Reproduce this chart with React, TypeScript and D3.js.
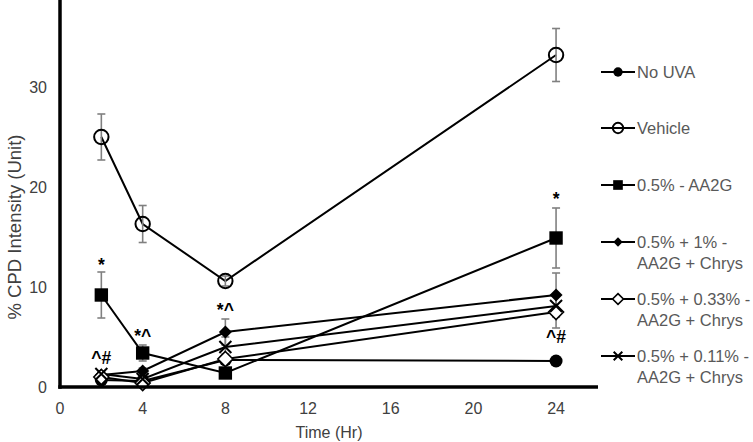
import React from "react";
import * as d3 from "d3";

const times = [2, 4, 8, 24];
const xTicks = [0, 4, 8, 12, 16, 20, 24];
const yTicks = [0, 10, 20, 30];

const noUva = [0.7, 0.6, 2.7, 2.6];
const noUvaErr = [0.2, 0.2, 0.3, 0.2];
const vehicle = [25.0, 16.3, 10.6, 33.2];
const vehicleErr = [2.3, 1.85, 0.5, 2.65];
const aa2g = [9.2, 3.4, 1.4, 14.9];
const aa2gErr = [2.3, 0.8, 0.3, 3.0];
const chrys1 = [1.2, 1.6, 5.5, 9.2];
const chrys1Err = [0.3, 0.3, 1.3, 2.2];
const chrys033 = [1.0, 0.4, 2.8, 7.5];
const chrys033Err = [0.2, 0.2, 0.5, 1.6];
const chrys011 = [1.3, 0.8, 4.0, 8.1];
const chrys011Err = [0.3, 0.3, 1.0, 1.0];

const seriesNames = [
  ["No UVA"],
  ["Vehicle"],
  ["0.5% - AA2G"],
  ["0.5% + 1% -", "AA2G + Chrys"],
  ["0.5% + 0.33% -", "AA2G + Chrys"],
  ["0.5% + 0.11% -", "AA2G + Chrys"],
];
const seriesMarkers = ["fcircle", "ocircle", "square", "fdiamond", "odiamond", "cross"];
const seriesValues = [noUva, vehicle, aa2g, chrys1, chrys033, chrys011];
const seriesErrs = [noUvaErr, vehicleErr, aa2gErr, chrys1Err, chrys033Err, chrys011Err];

const annoTimes = [2, 2, 4, 8, 24, 24];
const annoValues = [12.2, 2.9, 5.1, 7.7, 18.8, 5.0];
const annoTexts = ["*", "^#", "*^", "*^", "*", "^#"];

const W = 753;
const H = 442;

function Marker({ type, x, y, s = 1 }: { type: string; x: number; y: number; s?: number }) {
  if (type === "fcircle") return <circle cx={x} cy={y} r={6.5 * s} fill="#000" />;
  if (type === "ocircle")
    return <circle cx={x} cy={y} r={7.2 * s} fill="none" stroke="#000" strokeWidth={2} />;
  if (type === "square") {
    const h = 6.7 * s;
    return <rect x={x - h} y={y - h} width={2 * h} height={2 * h} fill="#000" />;
  }
  if (type === "fdiamond") {
    const h = 6.5 * s;
    return <path d={`M${x},${y - h}L${x + h},${y}L${x},${y + h}L${x - h},${y}Z`} fill="#000" />;
  }
  if (type === "odiamond") {
    const h = 7.5 * s;
    return (
      <path
        d={`M${x},${y - h}L${x + h},${y}L${x},${y + h}L${x - h},${y}Z`}
        fill="#fff"
        stroke="#000"
        strokeWidth={1.6}
      />
    );
  }
  const h = 6 * s;
  return (
    <path
      d={`M${x - h},${y - h}L${x + h},${y + h}M${x - h},${y + h}L${x + h},${y - h}`}
      stroke="#000"
      strokeWidth={2}
      fill="none"
    />
  );
}

export default function App() {
  const x = d3.scaleLinear().domain([0, 26]).range([60, 597.4]);
  const y = d3.scaleLinear().domain([0, 38.7]).range([387, 0]);
  const line = d3
    .line<number>()
    .x((_, i) => x(times[i]))
    .y((v) => y(v));

  const tickColor = "#404040";
  const legendColor = "#595959";
  const font = "Arial, 'Liberation Sans', sans-serif";
  const legendY = [72, 128, 185, 242, 299, 356];

  return (
    <svg
      width={W}
      height={H}
      style={{ position: "absolute", left: 0, top: 0, background: "#fff" }}
      fontFamily={font}
    >
      <rect width={W} height={H} fill="#fff" />
      {seriesValues.map((vals, si) => (
        <path key={"l" + si} d={line(vals) || ""} fill="none" stroke="#000" strokeWidth={2} />
      ))}
      {seriesValues.map((vals, si) =>
        vals.map((v, i) => {
          const e = seriesErrs[si][i];
          const cx = x(times[i]);
          return (
            <g key={"e" + si + "-" + i} stroke="#808080" strokeWidth={1.6}>
              <line x1={cx} x2={cx} y1={y(v + e)} y2={y(v - e)} />
              <line x1={cx - 4} x2={cx + 4} y1={y(v + e)} y2={y(v + e)} />
              <line x1={cx - 4} x2={cx + 4} y1={y(v - e)} y2={y(v - e)} />
            </g>
          );
        })
      )}
      {seriesValues.map((vals, si) =>
        vals.map((v, i) => (
          <Marker key={"m" + si + "-" + i} type={seriesMarkers[si]} x={x(times[i])} y={y(v)} />
        ))
      )}
      {annoTexts.map((t, i) => (
        <text
          key={"a" + i}
          x={x(annoTimes[i])}
          y={y(annoValues[i])}
          textAnchor="middle"
          dominantBaseline="central"
          fontSize={17.5}
          fontWeight="bold"
          fill="#000"
        >
          {t}
        </text>
      ))}
      <line x1={60} x2={60} y1={0} y2={388.7} stroke="#000" strokeWidth={3.5} />
      <line x1={58.3} x2={598} y1={387} y2={387} stroke="#000" strokeWidth={3.5} />
      {yTicks.map((t) => (
        <text
          key={"yt" + t}
          x={47}
          y={y(t)}
          textAnchor="end"
          dominantBaseline="central"
          fontSize={16}
          fill={tickColor}
        >
          {t}
        </text>
      ))}
      {xTicks.map((t) => (
        <text
          key={"xt" + t}
          x={x(t)}
          y={408}
          textAnchor="middle"
          dominantBaseline="central"
          fontSize={16}
          fill={tickColor}
        >
          {t}
        </text>
      ))}
      <text x={329} y={432} textAnchor="middle" dominantBaseline="central" fontSize={16} fill={tickColor}>
        Time (Hr)
      </text>
      <text
        transform={`translate(14,227) rotate(-90)`}
        textAnchor="middle"
        dominantBaseline="central"
        fontSize={18.5}
        fill={tickColor}
      >
        % CPD Intensity (Unit)
      </text>
      {seriesNames.map((lines, si) => (
        <g key={"lg" + si}>
          <line x1={601} x2={635} y1={legendY[si]} y2={legendY[si]} stroke="#000" strokeWidth={2} />
          <Marker type={seriesMarkers[si]} x={618} y={legendY[si]} s={0.72} />
          {lines.map((ln, li) => (
            <text
              key={li}
              x={637}
              y={legendY[si] + li * 21}
              dominantBaseline="central"
              fontSize={16.5}
              fill={legendColor}
            >
              {ln}
            </text>
          ))}
        </g>
      ))}
    </svg>
  );
}
